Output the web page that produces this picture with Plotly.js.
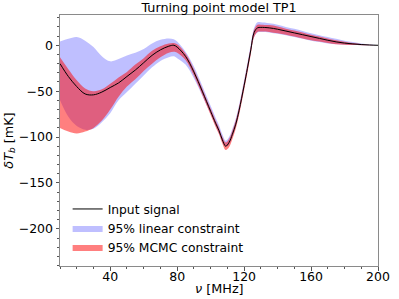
<!DOCTYPE html>
<html>
<head>
<meta charset="utf-8">
<script src="https://cdn.plot.ly/plotly-3.0.1.min.js"></script>
<style>html,body{margin:0;padding:0;background:#fff;}#chart{width:399px;height:299px;}</style>
</head>
<body>
<div id="chart"></div>
<script>
const freq = [10,15,20,25,30,35,40,45,50,55,60,65,70,75,78,80,85,90,95,100,103,105,107,109,111,113,115,117,120,122,124,126,128,130,135,140,145,150,155,160,165,170,175,180,185,190,195,200];
const signal = [-20,-34,-45,-53,-54,-51,-46,-41,-34,-27,-19,-11,-5,-1,0,-2,-12,-29,-50,-72,-85,-93,-103,-110,-106,-97,-86,-71,-44,-25,-5,14,19,19.5,19,17.5,15.5,13.5,11.5,9.5,7.5,5.5,3.7,2.4,1.5,0.8,0.3,0];
const mcmcUpper = [-13,-26,-38,-47,-50,-48,-42,-35,-29,-21,-14,-6,-1,2,2.5,1,-9,-26,-47,-69,-82,-90,-100,-106,-102,-93,-82,-67,-40,-21,-1,17,22.5,22.5,22,20.5,18,16,14,11.5,9.5,7.5,5.5,3.8,2.5,1.5,0.6,0];
const mcmcLower = [-90,-94,-96,-94,-90,-82,-70,-56,-45,-37,-28,-20,-13,-8,-7,-8,-16,-33,-54,-76,-89,-97,-107,-114,-111,-102,-91,-76,-49,-30,-10,9,14.5,15,14.5,13,11.5,9.5,7.5,5.5,4,2.5,1.2,0.6,0.3,0.1,0,0];
const linUpper = [4,7,9,5,-2,-12,-17.5,-15,-11,-8,-4,2,6,7.5,6.5,4,-7,-23,-44,-66,-79,-87,-97,-104,-100,-91,-80,-65,-38,-19,1,19,25,25,24,22.5,20,18,15.5,13,11,9,7,5,3.5,2,0.8,0];
const linLower = [-60,-78,-88,-92,-91,-84,-74,-60,-51,-42,-33,-24,-17,-13,-12,-14,-21,-36,-55,-75,-88,-96,-105,-110,-108,-100,-89,-74,-47,-28,-8,9,14,14.5,14,12.5,11,9,7,5,3.5,2,1,0.5,0.2,0.1,0,0];
const xTicks = [40,80,120,160,200];
const yTicks = [0,-50,-100,-150,-200];

const F = 'DejaVu Sans, Verdana, sans-serif';
const sp = {width: 0, shape: 'spline', smoothing: 1};
const traces = [
  {x: freq, y: linLower, mode: 'lines', line: Object.assign({color: 'rgba(0,0,255,0)'}, sp), showlegend: false, hoverinfo: 'skip'},
  {x: freq, y: linUpper, mode: 'lines', line: Object.assign({color: 'rgba(0,0,255,0)'}, sp), fill: 'tonexty', fillcolor: 'rgba(0,0,255,0.25)', name: '95% linear constraint', legendrank: 2},
  {x: freq, y: mcmcLower, mode: 'lines', line: Object.assign({color: 'rgba(255,0,0,0)'}, sp), showlegend: false, hoverinfo: 'skip'},
  {x: freq, y: mcmcUpper, mode: 'lines', line: Object.assign({color: 'rgba(255,0,0,0)'}, sp), fill: 'tonexty', fillcolor: 'rgba(255,0,0,0.5)', name: '95% MCMC constraint', legendrank: 3},
  {x: freq, y: signal, mode: 'lines', line: {width: 1, color: '#000', shape: 'spline', smoothing: 1}, name: 'Input signal', legendrank: 1}
];
const axisCommon = {
  showgrid: false, zeroline: false, showline: true, mirror: true, linecolor: '#8a8a8a', linewidth: 1,
  ticks: 'outside', ticklen: 3.5, tickwidth: 1, tickcolor: '#555',
  tickfont: {family: F, size: 12.5, color: '#000'}
};
const layout = {
  width: 399, height: 299,
  margin: {l: 59.5, r: 21, t: 15, b: 33},
  paper_bgcolor: '#fff', plot_bgcolor: '#fff',
  title: {text: 'Turning point model TP1', font: {family: F, size: 12.8, color: '#000'}, x: 0.549, xanchor: 'center', y: 0.975, yanchor: 'middle'},
  xaxis: Object.assign({}, axisCommon, {
    range: [10, 200], tickvals: xTicks, ticktext: xTicks.map(String),
    ticklabelstandoff: -5,
    minor: {dtick: 10, tick0: 0, ticks: 'outside', ticklen: 2, tickcolor: '#555'}
  }),
  yaxis: Object.assign({}, axisCommon, {
    range: [-240.5, 33], tickvals: yTicks,
    minor: {dtick: 10, tick0: 0, ticks: 'outside', ticklen: 2, tickcolor: '#555'},
    title: {text: '<i>δT</i><sub><i>b</i></sub> [mK]', font: {family: F, size: 12.8, color: '#000'}, standoff: 2}
  }),
  annotations: [{
    text: '<i>ν</i> [MHz]', xref: 'paper', yref: 'paper', x: 0.5, y: -0.088,
    xanchor: 'center', yanchor: 'middle', showarrow: false,
    font: {family: F, size: 12.8, color: '#000'}
  }],
  legend: {x: 0.024, y: 0.285, xanchor: 'left', yanchor: 'top', bgcolor: 'rgba(0,0,0,0)', borderwidth: 0,
    font: {family: F, size: 12.3, color: '#000'}, tracegroupgap: 0, traceorder: 'normal'},
  showlegend: true
};
Plotly.newPlot('chart', traces, layout, {displayModeBar: false, staticPlot: true});
</script>
</body>
</html>
